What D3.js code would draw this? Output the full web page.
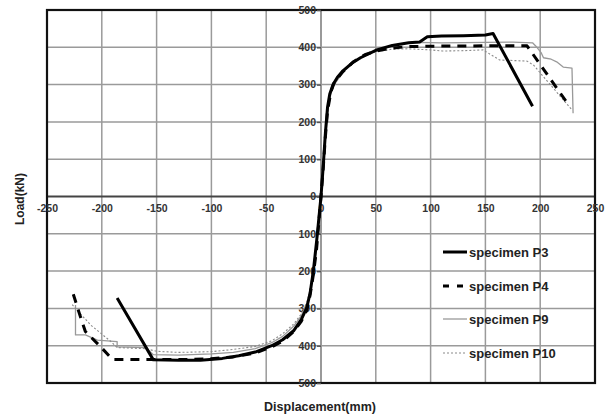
<!DOCTYPE html>
<html>
<head>
<meta charset="utf-8">
<script src="https://cdn.jsdelivr.net/npm/d3@7/dist/d3.min.js"></script>
<style>
  html, body { margin: 0; padding: 0; background: #fff; }
  svg { display: block; font-family: "Liberation Sans", Arial, sans-serif; }
</style>
</head>
<body>
<svg id="chart" width="615" height="419"></svg>
<script>
// Load–displacement envelopes, [displacement (mm), load (kN)]
const seriesNames = ["specimen P3", "specimen P4", "specimen P9", "specimen P10"];

const p3 = [
  [-186,-272],[-153,-438],[-130,-439],[-110,-439],[-90,-434],[-75,-427],[-60,-417],[-45,-400],
  [-35,-384],[-25,-360],[-18,-330],[-13,-298],[-10,-260],[-7,-200],[-4,-120],[-2,-60],[0,0],
  [2,80],[4,170],[6,240],[8,275],[11,300],[15,320],[20,337],[28,357],[36,372],[50,392],
  [65,405],[80,412],[90,414],[97,428],[110,430],[130,431],[150,433],[157,437],[193,242]
];
const p4 = [
  [-226,-262],[-220,-318],[-215,-362],[-201,-403],[-193,-428],[-190,-437],[-150,-437],
  [-120,-437],[-100,-435],[-80,-430],[-60,-420],[-45,-403],[-35,-388],[-25,-362],[-18,-335],
  [-13,-305],[-10,-265],[-7,-210],[-4,-140],[-2,-70],[0,0],
  [2,75],[4,160],[6,230],[9,280],[12,305],[20,335],[30,362],[40,380],[50,390],[65,398],
  [80,402],[100,403],[150,404],[188,404],[227,241]
];
const p9 = [
  [-224,-291],[-224,-371],[-215,-371],[-204,-385],[-186,-389],[-186,-403],[-160,-405],
  [-153,-424],[-130,-425],[-100,-422],[-80,-418],[-60,-408],[-45,-392],[-35,-375],[-25,-348],
  [-18,-320],[-13,-290],[-10,-255],[-7,-200],[-4,-135],[-2,-65],[0,0],
  [2,70],[4,150],[6,225],[9,275],[12,300],[20,333],[30,360],[40,378],[50,390],[60,400],
  [75,410],[90,413],[110,412],[150,413],[175,414],[193,412],[197,400],[201,385],[203,372],
  [210,368],[215,361],[221,347],[229,344],[230,223]
];
const p10 = [
  [-227,-290],[-224,-300],[-210,-345],[-192,-388],[-186,-405],[-160,-408],[-150,-415],
  [-130,-418],[-100,-416],[-80,-410],[-60,-402],[-45,-387],[-35,-368],[-25,-342],[-18,-315],
  [-13,-285],[-10,-250],[-7,-195],[-4,-130],[-2,-60],[0,0],
  [2,72],[4,155],[6,228],[9,278],[12,302],[20,334],[30,360],[40,377],[50,388],[65,395],
  [80,396],[100,393],[111,390],[130,391],[148,393],[155,380],[163,366],[188,363],[194,352],
  [229,232]
];

const xTicks = [-250, -200, -150, -100, -50, 0, 50, 100, 150, 200, 250];
const yTicks = [-500, -400, -300, -200, -100, 0, 100, 200, 300, 400, 500];

(function draw() {
  const svg = d3.select("#chart");
  const pLeft = 47, pRight = 595, pTop = 10, pBottom = 383;

  const x = d3.scaleLinear().domain([-250, 250]).range([pLeft, pRight]);
  const y = d3.scaleLinear().domain([-500, 500]).range([pBottom, pTop]);

  // grid
  const grid = svg.append("g");
  grid.selectAll("line.v").data(xTicks).join("line")
    .attr("x1", d => x(d)).attr("x2", d => x(d))
    .attr("y1", pTop).attr("y2", pBottom)
    .attr("stroke", d => d === 0 ? "#777" : "#9a9a9a").attr("stroke-width", 1.5);
  grid.selectAll("line.h").data(yTicks).join("line")
    .attr("y1", d => y(d)).attr("y2", d => y(d))
    .attr("x1", pLeft).attr("x2", pRight)
    .attr("stroke", d => d === 0 ? "#444" : "#9a9a9a").attr("stroke-width", d => d === 0 ? 2 : 1.5);

  // frame
  svg.append("rect")
    .attr("x", pLeft).attr("y", pTop).attr("width", pRight - pLeft).attr("height", pBottom - pTop)
    .attr("fill", "none").attr("stroke", "#111").attr("stroke-width", 2.2);

  // axes through the origin
  const xAxis = d3.axisBottom(x).tickValues(xTicks).tickSize(0).tickPadding(8).tickFormat(d => d);
  const yAxis = d3.axisLeft(y).tickValues(yTicks).tickSize(4).tickPadding(1).tickFormat(d => Math.abs(d));

  const gx = svg.append("g").attr("transform", `translate(0,${y(0)})`).call(xAxis);
  gx.select(".domain").remove();
  gx.selectAll("text").attr("font-size", 10.5).attr("font-weight", "bold").attr("fill", "#333")
    .attr("font-family", "Liberation Sans, Arial, sans-serif");

  const gy = svg.append("g").attr("transform", `translate(${x(0)},0)`).call(yAxis);
  gy.select(".domain").remove();
  gy.selectAll("line").attr("stroke", "#555").attr("stroke-width", 1.5);
  gy.selectAll("text").attr("font-size", 10.5).attr("font-weight", "bold").attr("fill", "#333")
    .attr("font-family", "Liberation Sans, Arial, sans-serif");

  // curves
  const line = d3.line().x(d => x(d[0])).y(d => y(d[1]));
  const styles = [
    { data: p3,  stroke: "#000",    width: 3,   dash: null },
    { data: p4,  stroke: "#000",    width: 3,   dash: "9,7" },
    { data: p9,  stroke: "#999",    width: 1.3, dash: null },
    { data: p10, stroke: "#8a8a8a", width: 1.1, dash: "2,2" }
  ];
  // thin curves first so the heavy lines sit on top
  [2, 3, 1, 0].forEach(i => {
    const s = styles[i];
    svg.append("path").datum(s.data)
      .attr("d", line)
      .attr("fill", "none")
      .attr("stroke", s.stroke)
      .attr("stroke-width", s.width)
      .attr("stroke-linejoin", "round")
      .attr("stroke-dasharray", s.dash);
  });

  // legend
  const legendY = [252, 286, 319, 353];
  const lg = svg.append("g");
  seriesNames.forEach((name, i) => {
    const s = styles[i];
    lg.append("line")
      .attr("x1", 443).attr("x2", 467)
      .attr("y1", legendY[i]).attr("y2", legendY[i])
      .attr("stroke", s.stroke).attr("stroke-width", s.width)
      .attr("stroke-dasharray", i === 1 ? "6,8" : s.dash);
    lg.append("text")
      .attr("x", 469).attr("y", legendY[i]).attr("dy", "0.35em")
      .attr("font-size", 13).attr("font-weight", "bold").attr("fill", "#222")
      .text(name);
  });

  // axis titles
  svg.append("text")
    .attr("x", 320).attr("y", 411)
    .attr("text-anchor", "middle")
    .attr("font-size", 12.5).attr("font-weight", "bold").attr("fill", "#222")
    .text("Displacement(mm)");
  svg.append("text")
    .attr("transform", "translate(24,199) rotate(-90)")
    .attr("text-anchor", "middle")
    .attr("font-size", 12).attr("font-weight", "bold").attr("fill", "#222")
    .text("Load(kN)");
})();
</script>
</body>
</html>
